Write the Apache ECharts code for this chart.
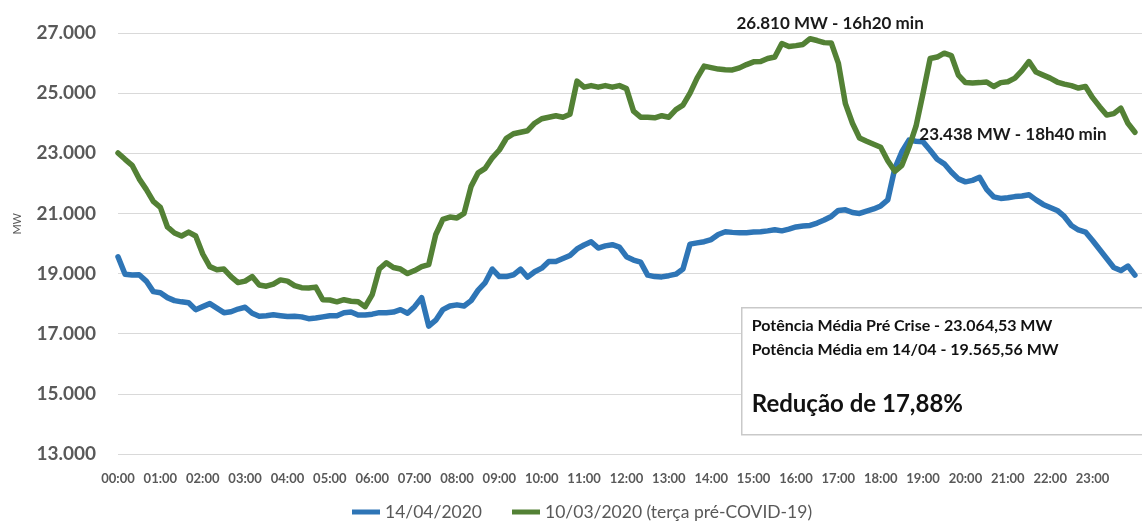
<!DOCTYPE html>
<html>
<head>
<meta charset="utf-8">
<script src="https://cdn.jsdelivr.net/npm/echarts@6/dist/echarts.min.js"></script>
<style>
html,body{margin:0;padding:0;background:#fff;}
#chart{width:1142px;height:522px;}
</style>
</head>
<body>
<div id="chart"></div>
<script>
// Sampling: one value every 10 minutes, from 00:00 to 24:00 (minutes since midnight)
const sampleStepMinutes = 10;
const sampleCount = 145;

// 14/04/2020 (MW)
const blueValues = [
19560,18980,18950,18960,18750,18400,18360,18200,18100,18060,
18030,17800,17900,18000,17850,17700,17730,17820,17880,17680,
17580,17600,17630,17600,17570,17580,17560,17500,17520,17560,
17600,17600,17700,17720,17620,17620,17650,17700,17700,17720,
17800,17680,17900,18200,17250,17450,17800,17920,17960,17920,
18100,18450,18700,19150,18900,18900,18960,19150,18880,19060,
19180,19400,19400,19500,19600,19820,19950,20060,19850,19920,
19960,19880,19560,19450,19380,18950,18900,18890,18930,18980,
19150,19980,20020,20060,20130,20300,20390,20370,20360,20360,
20380,20390,20420,20460,20420,20480,20550,20580,20600,20680,
20780,20900,21100,21120,21030,21000,21080,21150,21250,21450,
22500,23050,23438,23400,23380,23100,22800,22650,22380,22150,
22050,22100,22200,21800,21550,21500,21520,21560,21580,21620,
21450,21300,21200,21100,20900,20600,20450,20380,20100,19800,
19500,19200,19100,19250,18950
];

// 10/03/2020 (terça pré-COVID-19) (MW)
const greenValues = [
23010,22800,22600,22150,21800,21400,21200,20550,20350,20250,
20380,20250,19650,19230,19130,19150,18900,18700,18750,18900,
18620,18580,18650,18790,18750,18600,18530,18520,18550,18130,
18120,18060,18130,18080,18060,17900,18300,19150,19360,19200,
19150,19000,19100,19230,19300,20300,20800,20880,20850,21000,
21900,22350,22500,22850,23110,23500,23650,23700,23750,24000,
24150,24200,24250,24200,24300,25400,25200,25250,25200,25250,
25200,25250,25150,24400,24200,24200,24180,24250,24200,24450,
24600,25000,25500,25900,25850,25800,25780,25770,25840,25950,
26040,26050,26150,26200,26650,26550,26580,26620,26810,26750,
26680,26670,26000,24650,24000,23510,23400,23300,23200,22750,
22400,22600,23200,23900,25000,26150,26200,26330,26250,25600,
25350,25340,25350,25370,25220,25350,25380,25500,25750,26050,
25700,25600,25500,25370,25300,25250,25170,25220,24850,24550,
24270,24320,24500,24000,23700
];

const seriesNames = ['14/04/2020', '10/03/2020 (terça pré-COVID-19)'];
const yTicks = [13000, 15000, 17000, 19000, 21000, 23000, 25000, 27000];
const peakGreen = { minute: 980, value: 26810, label: '26.810 MW - 16h20 min' };
const peakBlue = { minute: 1120, value: 23438, label: '23.438 MW - 18h40 min' };
const boxLines = ['Potência Média Pré Crise - 23.064,53 MW', 'Potência Média em 14/04 - 19.565,56 MW', 'Redução de 17,88%'];

const minutes = [];
for (let i = 0; i < sampleCount; i++) minutes.push(i * sampleStepMinutes);
const blueData = minutes.map((m, i) => [m, blueValues[i]]);
const greenData = minutes.map((m, i) => [m, greenValues[i]]);

const FONT = 'Lato, "Open Sans", sans-serif';
const fmtThousands = v => String(v).replace(/\B(?=(\d{3})+(?!\d))/g, '.');
const pad2 = n => (n < 10 ? '0' : '') + n;

const chart = echarts.init(document.getElementById('chart'), null, { renderer: 'canvas' });
chart.setOption({
  animation: false,
  backgroundColor: '#ffffff',
  textStyle: { fontFamily: FONT },
  grid: { left: 118, right: 0, top: 33, bottom: 68, containLabel: false },
  legend: {
    top: 498,
    left: 347,
    icon: 'rect',
    itemWidth: 28,
    itemHeight: 5,
    itemGap: 30,
    textStyle: { fontFamily: FONT, fontSize: 17.5, color: '#595959' },
    data: seriesNames
  },
  xAxis: {
    type: 'value',
    min: 0,
    max: 1450,
    interval: 60,
    axisLine: { show: false },
    axisTick: { show: false },
    splitLine: { show: false },
    axisLabel: {
      margin: 18,
      fontFamily: FONT,
      fontSize: 13,
      fontWeight: 'bold',
      color: '#595959',
      showMaxLabel: false,
      formatter: v => (v >= 1440 ? '' : pad2(Math.round(v / 60)) + ':00')
    }
  },
  yAxis: {
    type: 'value',
    min: yTicks[0],
    max: yTicks[yTicks.length - 1],
    interval: 2000,
    axisLine: { show: false },
    axisTick: { show: false },
    splitLine: { lineStyle: { color: '#d9d9d9', width: 1 } },
    axisLabel: {
      margin: 22,
      fontFamily: FONT,
      fontSize: 19,
      fontWeight: 'bold',
      color: '#595959',
      formatter: v => fmtThousands(v)
    }
  },
  series: [
    {
      name: seriesNames[0],
      type: 'line',
      data: blueData,
      showSymbol: false,
      symbol: 'none',
      lineStyle: { color: '#2E75B6', width: 5.5, cap: 'round', join: 'round' },
      itemStyle: { color: '#2E75B6' },
      z: 2,
      markPoint: {
        symbol: 'circle',
        symbolSize: 1,
        itemStyle: { color: 'rgba(0,0,0,0)' },
        label: {
          show: true,
          position: 'inside',
          offset: [104, -6],
          fontFamily: FONT,
          fontSize: 17,
          fontWeight: 'bold',
          color: '#1a1a1a',
          formatter: () => peakBlue.label
        },
        data: [{ coord: [peakBlue.minute, peakBlue.value] }]
      }
    },
    {
      name: seriesNames[1],
      type: 'line',
      data: greenData,
      showSymbol: false,
      symbol: 'none',
      lineStyle: { color: '#538135', width: 5.5, cap: 'round', join: 'round' },
      itemStyle: { color: '#538135' },
      z: 3,
      markPoint: {
        symbol: 'circle',
        symbolSize: 1,
        itemStyle: { color: 'rgba(0,0,0,0)' },
        label: {
          show: true,
          position: 'inside',
          offset: [20, -15],
          fontFamily: FONT,
          fontSize: 17,
          fontWeight: 'bold',
          color: '#1a1a1a',
          formatter: () => peakGreen.label
        },
        data: [{ coord: [peakGreen.minute, peakGreen.value] }]
      }
    }
  ],
  graphic: [
    {
      type: 'text',
      left: 12,
      top: 213,
      z: 100,
      rotation: Math.PI / 2,
      style: { text: 'MW', fontFamily: FONT, fontSize: 11, fill: '#595959' }
    },
    {
      type: 'group',
      left: 741,
      top: 307,
      z: 100,
      children: [
        {
          type: 'rect',
          z: 100,
          shape: { x: 0, y: 0, width: 420, height: 127 },
          style: { fill: '#ffffff', stroke: '#c9c9c9', lineWidth: 1.5 }
        },
        {
          type: 'text',
          z: 101,
          x: 10, y: 10,
          style: { text: boxLines[0], fontFamily: FONT, fontSize: 16, fontWeight: 'bold', fill: '#111' }
        },
        {
          type: 'text',
          z: 101,
          x: 10, y: 34,
          style: { text: boxLines[1], fontFamily: FONT, fontSize: 16, fontWeight: 'bold', fill: '#111' }
        },
        {
          type: 'text',
          z: 101,
          x: 10, y: 85,
          style: { text: boxLines[2], fontFamily: FONT, fontSize: 24, fontWeight: 'bold', fill: '#111' }
        }
      ]
    }
  ]
});
</script>
</body>
</html>
